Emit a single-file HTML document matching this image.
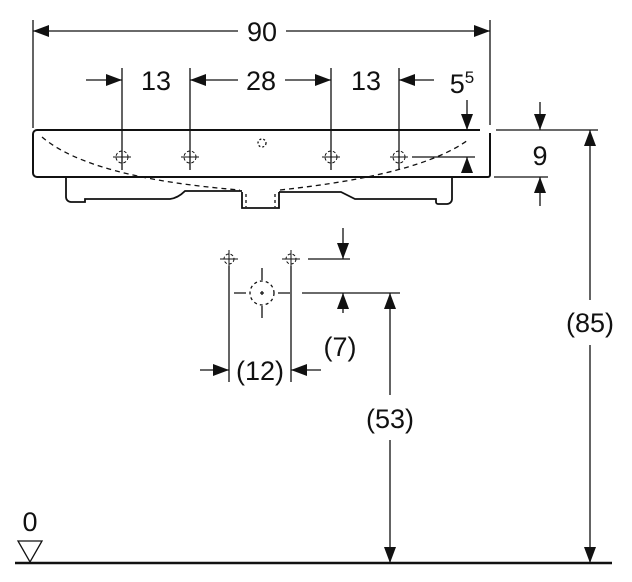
<!DOCTYPE html>
<html><head><style>
html,body{margin:0;padding:0;background:#fff}
svg{display:block}
text{font-family:"Liberation Sans",sans-serif;fill:#111}
</style></head><body>
<svg width="632" height="582" viewBox="0 0 632 582" xmlns="http://www.w3.org/2000/svg">
<defs>
<marker id="a" viewBox="0 0 16 12" refX="16" refY="6" markerWidth="16" markerHeight="12" markerUnits="userSpaceOnUse" orient="auto"><path d="M0,0L16,6L0,12z" fill="#111"/></marker>
</defs>
<g stroke="#111" stroke-width="1.3" fill="none">
<line x1="33" y1="20" x2="33" y2="128"/>
<line x1="490" y1="20" x2="490" y2="125"/>
<line x1="238" y1="31" x2="33" y2="31" marker-end="url(#a)"/>
<line x1="286" y1="31" x2="490" y2="31" marker-end="url(#a)"/>
<line x1="122" y1="68" x2="122" y2="170"/>
<line x1="190" y1="68" x2="190" y2="170"/>
<line x1="331" y1="68" x2="331" y2="170"/>
<line x1="399" y1="68" x2="399" y2="170"/>
<line x1="86" y1="80" x2="122" y2="80" marker-end="url(#a)"/>
<line x1="238" y1="80" x2="190" y2="80" marker-end="url(#a)"/>
<line x1="285" y1="80" x2="331" y2="80" marker-end="url(#a)"/>
<line x1="434" y1="80" x2="399" y2="80" marker-end="url(#a)"/>
<path d="M37,130H480M490,133V175a2,2 0 0 1 -2,2H480" stroke-width="2"/>
<path d="M480,177H37a4,4 0 0 1 -4,-4V134a4,4 0 0 1 4,-4" stroke-width="2"/>
<path d="M66,177V197a5,5 0 0 0 5,5H85V199H170Q178,198 185,191H242M279,192H341L355,199H436V202a2,2 0 0 0 2,2H447a5,5 0 0 0 5,-5V177" stroke-width="1.8"/>
<path d="M242,192V208H279V192" stroke-width="1.8"/>
<path d="M246,194V207M275,194V207" stroke-dasharray="3,3"/>
<path d="M42,137Q90,178 240,190M280,190Q420,175 468,140" stroke-dasharray="5,4"/>
<circle cx="262" cy="143" r="4" stroke-dasharray="2,2"/>
<line x1="467" y1="100" x2="467" y2="130" marker-end="url(#a)"/>
<line x1="467" y1="173" x2="467" y2="157" marker-end="url(#a)"/>
<line x1="412" y1="157" x2="475" y2="157"/>
<line x1="496" y1="130" x2="598" y2="130"/>
<line x1="494" y1="177" x2="548" y2="177"/>
<line x1="540" y1="102" x2="540" y2="130" marker-end="url(#a)"/>
<line x1="540" y1="206" x2="540" y2="177" marker-end="url(#a)"/>
<line x1="590" y1="300" x2="590" y2="130" marker-end="url(#a)"/>
<line x1="590" y1="345" x2="590" y2="563" marker-end="url(#a)"/>
<line x1="229" y1="266" x2="229" y2="382"/>
<line x1="291" y1="266" x2="291" y2="382"/>
<line x1="308" y1="259" x2="350" y2="259"/>
<line x1="343" y1="228" x2="343" y2="259" marker-end="url(#a)"/>
<line x1="302" y1="293" x2="400" y2="293"/>
<line x1="343" y1="313" x2="343" y2="293" marker-end="url(#a)"/>
<line x1="200" y1="370" x2="229" y2="370" marker-end="url(#a)"/>
<line x1="321" y1="370" x2="291" y2="370" marker-end="url(#a)"/>
<circle cx="262" cy="293" r="12" stroke-dasharray="3,3"/>
<path d="M234,293H246M278,293H290M262,268V280M262,306V318M260,293H264M262,291V295"/>
<line x1="390" y1="395" x2="390" y2="293" marker-end="url(#a)"/>
<line x1="390" y1="440" x2="390" y2="563" marker-end="url(#a)"/>
<line x1="15" y1="563" x2="612" y2="563" stroke-width="2.5"/>
<path d="M18,541H42L30,562z"/>
</g>
<g stroke="#111" stroke-width="1" fill="none">
<g id="h"><circle cx="122" cy="157" r="6" stroke-dasharray="3,2"/><path d="M113,157H131M122,150V170"/></g>
<use href="#h" x="68"/><use href="#h" x="209"/><use href="#h" x="277"/>
<g><circle cx="229" cy="259" r="5" stroke-dasharray="3,2"/><path d="M220,259H238M229,250V266"/></g>
<g><circle cx="291" cy="259" r="5" stroke-dasharray="3,2"/><path d="M282,259H300M291,250V266"/></g>
</g>
<g font-size="27" text-anchor="middle">
<text x="262" y="41">90</text>
<text x="156" y="90">13</text>
<text x="261" y="90">28</text>
<text x="366" y="90">13</text>
<text x="462" y="93">5<tspan font-size="17" dy="-10">5</tspan></text>
<text x="540" y="165">9</text>
<text x="590" y="332">(85)</text>
<text x="340" y="356">(7)</text>
<text x="260" y="380">(12)</text>
<text x="390" y="428">(53)</text>
<text x="30" y="531">0</text>
</g>
</svg>
</body></html>
